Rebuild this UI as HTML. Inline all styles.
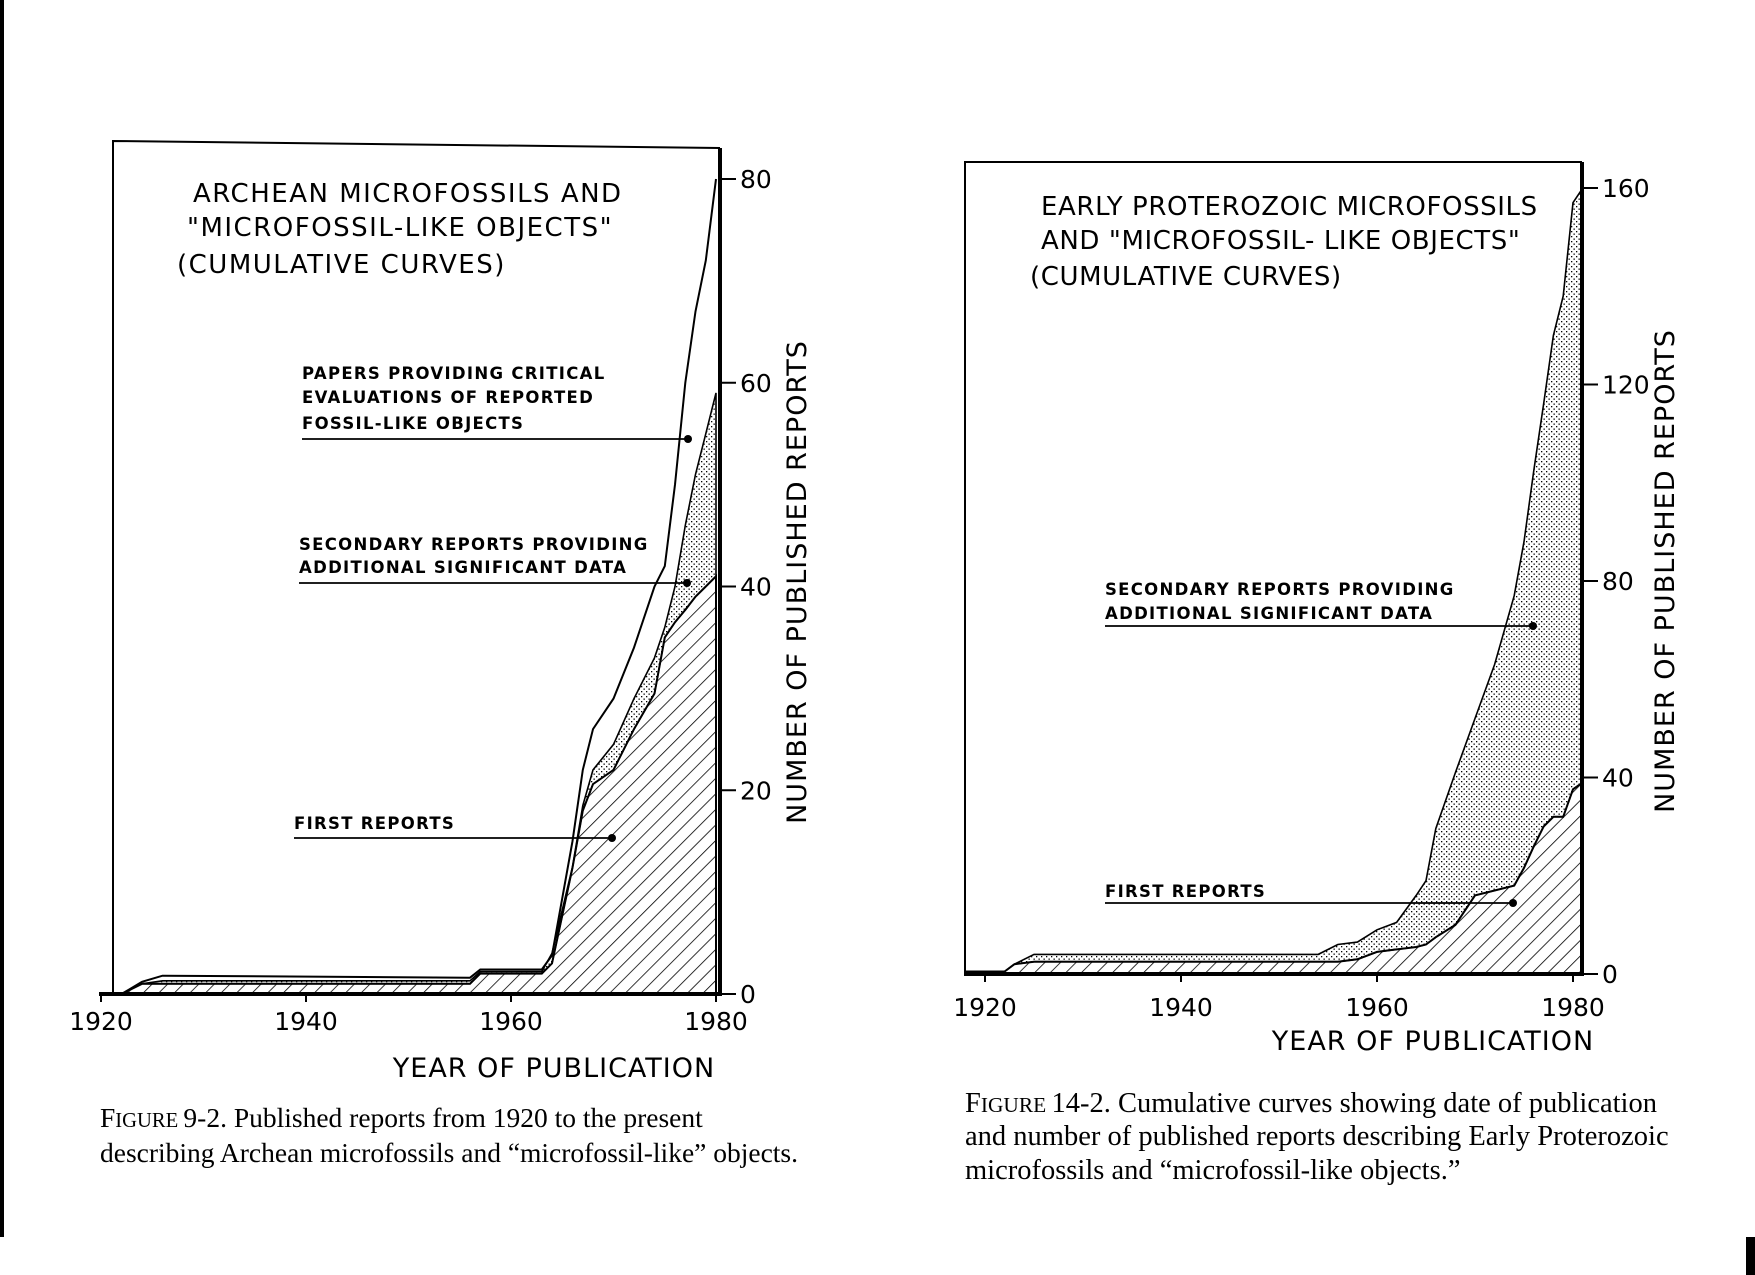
<!DOCTYPE html>
<html><head><meta charset="utf-8">
<style>
body{margin:0;background:#fff;}
svg{display:block;}
.sans{font-family:"DejaVu Sans","Liberation Sans",sans-serif;}
.serif{font-family:"Liberation Serif",serif;}
</style></head>
<body>
<svg id="root" width="1755" height="1275" viewBox="0 0 1755 1275" xmlns="http://www.w3.org/2000/svg">
<defs>
<pattern id="hatch" patternUnits="userSpaceOnUse" width="11" height="11" patternTransform="rotate(45)">
<line x1="0" y1="0" x2="0" y2="11" stroke="#000" stroke-width="1.6"/>
</pattern>
<pattern id="stipple" patternUnits="userSpaceOnUse" width="5" height="5">
<rect x="1" y="1" width="1.3" height="1.3" fill="#000"/>
<rect x="3.5" y="3.5" width="1.3" height="1.3" fill="#000"/>
</pattern>
</defs>
<rect x="0" y="0" width="4" height="1237" fill="#000"/>
<rect x="1746" y="1237" width="9" height="38" fill="#000"/>
<g id="chartA"></g>
<g id="chartB"></g>
</svg>
<script>
// ---- Chart A data (Archean) ----
const yearsA = [1920,1922,1924,1926,1956,1957,1963,1964,1966,1967,1968,1970,1972,1974,1975,1976,1977,1978,1979,1980];
const firstA = [0,0,1,1,1,2,2,3,12.4,18,20.6,22,26,29.5,35,36.5,37.7,39,40,41];
const secondaryA = [0,0,1,1.3,1.3,2.2,2.2,4,12.5,18.5,22,24.5,29,33,36,40,46,51,55,59];
const criticalA = [0,0,1.2,1.8,1.6,2.4,2.4,3.8,15,22,26,29,34,40,42,50,60,67,72,80];
const yTicksA = [0,20,40,60,80];
const xTicksA = [1920,1940,1960,1980];
// ---- Chart B data (Early Proterozoic) ----
const yearsB = [1918,1922,1923,1925,1954,1956,1958,1960,1962,1964,1965,1966,1968,1970,1972,1974,1975,1976,1977,1978,1979,1980,1981];
const firstB = [0.5,0.5,2,2.5,2.5,2.5,3,4.5,5,5.5,6,7.5,10,16,17,18,21.6,26,30,32,32,37.6,39];
const secondaryB = [0.5,0.5,2,4,4,6,6.5,9,10.5,16,19,29.6,41,52,63,77,88,102.5,116,130,138,157,160];
const yTicksB = [0,40,80,120,160];
const xTicksB = [1920,1940,1960,1980];

const NS='http://www.w3.org/2000/svg';
function mk(parent,tag,attrs,text){const e=document.createElementNS(NS,tag);for(const k in attrs)e.setAttribute(k,attrs[k]);if(text!==undefined)e.textContent=text;parent.appendChild(e);return e;}
function lin(d0,d1,r0,r1){return v=>r0+(v-d0)*(r1-r0)/(d1-d0);}
function pathLine(xs,ys,xf,yf){return xs.map((x,i)=>(i?'L':'M')+xf(x).toFixed(1)+' '+yf(ys[i]).toFixed(1)).join(' ');}
function area(xs,top,bot,xf,yf){let d=pathLine(xs,top,xf,yf);for(let i=xs.length-1;i>=0;i--)d+=' L'+xf(xs[i]).toFixed(1)+' '+yf(bot?bot[i]:0).toFixed(1);return d+' Z';}

function drawChart(g,cfg){
  const xf=lin(1920,1980,cfg.x1920,cfg.x1980), yf=lin(0,cfg.ymax,cfg.y0,cfg.ytop);
  let e;
  e=mk(g,'polyline',{points:`${cfg.frameL},${cfg.y0} ${cfg.frameL},${cfg.frameT} ${cfg.axisX},${cfg.frameT2}`,fill:'none',stroke:'#000','stroke-width':2});
  
  if(cfg.secondary){e=mk(g,'path',{d:area(cfg.years,cfg.secondary,cfg.first,xf,yf),fill:'url(#stipple)',stroke:'#000','stroke-width':1.6});
  }
  e=mk(g,'path',{d:area(cfg.years,cfg.first,null,xf,yf),fill:'url(#hatch)',stroke:'#000','stroke-width':2});
  
  if(cfg.critical){
    e=mk(g,'path',{d:pathLine(cfg.years,cfg.critical,xf,yf),fill:'none',stroke:'#000','stroke-width':2});
    
  }
  e=mk(g,'line',{x1:cfg.axisStart,y1:cfg.y0,x2:cfg.axisX,y2:cfg.y0,stroke:'#000','stroke-width':4});
  
  e=mk(g,'line',{x1:cfg.axisX,y1:cfg.y0+2,x2:cfg.axisX,y2:cfg.frameT2,stroke:'#000','stroke-width':4});
  
  cfg.yTicks.forEach(t=>{
    e=mk(g,'line',{x1:cfg.axisX,y1:yf(t),x2:cfg.axisX+16,y2:yf(t),stroke:'#000','stroke-width':2});
    
    e=mk(g,'text',{x:cfg.axisX+20,y:yf(t)+9,'font-size':25,class:'sans'},String(t));
    
  });
  cfg.xTicks.forEach(t=>{
    e=mk(g,'line',{x1:xf(t),y1:cfg.y0,x2:xf(t),y2:cfg.y0+8,stroke:'#000','stroke-width':2});
    
    e=mk(g,'text',{x:xf(t),y:cfg.y0+cfg.xlabDy,'font-size':25,'text-anchor':'middle',class:'sans'},String(t));
    
  });
  e=mk(g,'text',{x:cfg.xtitle[0],y:cfg.xtitle[1],'font-size':27,'text-anchor':'middle',class:'sans','letter-spacing':1},'YEAR  OF  PUBLICATION');
  
  e=mk(g,'text',{x:0,y:0,'font-size':27,'text-anchor':'middle',class:'sans','letter-spacing':1,transform:`translate(${cfg.ytitle[0]},${cfg.ytitle[1]}) rotate(-90)`},'NUMBER  OF  PUBLISHED  REPORTS');
  
  cfg.title.forEach(l=>{
    e=mk(g,'text',{x:l[0],y:l[1],'font-size':26,class:'sans','letter-spacing':cfg.titleLs,'xml:space':'preserve'},l[2]);
    
  });
  cfg.notes.forEach(n=>{
    n.lines.forEach(l=>{
      e=mk(g,'text',{x:n.x,y:l[0],'font-size':16.5,class:'sans','letter-spacing':1.3,'font-weight':'bold','xml:space':'preserve'},l[1]);
      
    });
    e=mk(g,'line',{x1:n.x,y1:n.ly,x2:n.dx,y2:n.ly,stroke:'#000','stroke-width':1.8});
    
    e=mk(g,'circle',{cx:n.dx,cy:n.ly,r:4,fill:'#000'});
    
  });
  cfg.caption.forEach(l=>{
    const t=mk(g,'text',{x:cfg.capX,y:l[0],'font-size':cfg.capFs,class:'serif'});
    
    if(l[2]){mk(t,'tspan',{},l[2][0]);mk(t,'tspan',{'font-size':cfg.capFs*0.75},l[2][1]);}
    mk(t,'tspan',{},l[1]);
  });
}

drawChart(document.getElementById('chartA'),{
  years:yearsA,first:firstA,secondary:secondaryA,critical:criticalA,yTicks:yTicksA,xTicks:xTicksA,
  x1920:101,x1980:716,y0:994,ytop:179,ymax:80,frameL:113,frameT:141,frameT2:148,axisX:720,axisStart:99,xlabDy:36,
  xtitle:[554,1077],ytitle:[806,582],titleLs:1.5,
  title:[[193,202,'ARCHEAN  MICROFOSSILS  AND'],[187,236,'"MICROFOSSIL-LIKE  OBJECTS"'],[177,273,'(CUMULATIVE   CURVES)']],
  notes:[
    {x:302,lines:[[379,'PAPERS  PROVIDING  CRITICAL'],[403,'EVALUATIONS  OF  REPORTED'],[429,'FOSSIL-LIKE  OBJECTS']],ly:439,dx:688},
    {x:299,lines:[[550,'SECONDARY  REPORTS  PROVIDING'],[573,'ADDITIONAL  SIGNIFICANT  DATA']],ly:583,dx:687},
    {x:294,lines:[[829,'FIRST  REPORTS']],ly:838,dx:612}
  ],
  capX:100,capFs:27.5,caption:[[1127,'9-2.  Published reports from 1920 to the present',['F','IGURE ']],[1162,'describing Archean microfossils and “microfossil-like” objects.']]
});
drawChart(document.getElementById('chartB'),{
  years:yearsB,first:firstB,secondary:secondaryB,critical:null,yTicks:yTicksB,xTicks:xTicksB,
  x1920:985,x1980:1573,y0:974,ytop:188,ymax:160,frameL:965,frameT:162,frameT2:162,axisX:1582,axisStart:964,xlabDy:42,
  xtitle:[1433,1050],ytitle:[1674,571],titleLs:0.6,
  title:[[1041,215,'EARLY  PROTEROZOIC  MICROFOSSILS'],[1041,249,'AND "MICROFOSSIL- LIKE  OBJECTS"'],[1030,285,'(CUMULATIVE   CURVES)']],
  notes:[
    {x:1105,lines:[[595,'SECONDARY  REPORTS  PROVIDING'],[619,'ADDITIONAL  SIGNIFICANT  DATA']],ly:626,dx:1533},
    {x:1105,lines:[[897,'FIRST  REPORTS']],ly:903,dx:1513}
  ],
  capX:965,capFs:28.5,caption:[[1112,'14-2.  Cumulative curves showing date of publication',['F','IGURE ']],[1145,'and number of published reports describing Early Proterozoic'],[1179,'microfossils and “microfossil-like objects.”']]
});
</script>
</body></html>
